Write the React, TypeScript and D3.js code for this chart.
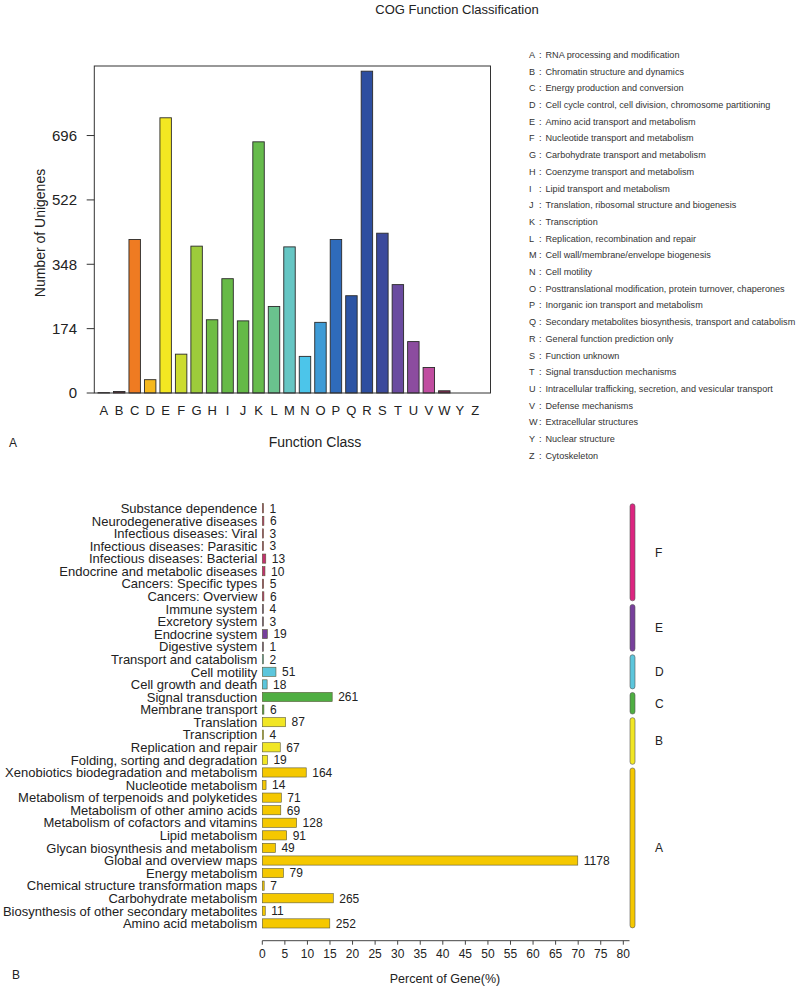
import React from "react";
import * as d3 from "d3";

// ---------- Panel A data ----------
const cogLetters = ["A","B","C","D","E","F","G","H","I","J","K","L","M","N","O","P","Q","R","S","T","U","V","W","Y","Z"];
const cogCounts = [1,4,415,36,744,105,397,198,309,195,679,234,395,99,191,415,263,870,432,293,139,69,6,0,0];
const cogColors = ["#8a2a3a","#7a2a3a","#ef7b22","#f6b81c","#f3e722","#cbdb2f","#9dcb3b","#6fbd45","#67ba47","#64b947","#66bb4c","#6ac28e","#66c6c4","#4cc5ea","#3e9bd6","#2f6bbb","#2c54a4","#2d4ea0","#3c4a9c","#6a4ba0","#8c4c9f","#c04da0","#7c2c4e","#888888","#888888"];
const cogTicks = [0,174,348,522,696];
const cogDescriptions = [
  "RNA processing and modification",
  "Chromatin structure and dynamics",
  "Energy production and conversion",
  "Cell cycle control, cell division, chromosome partitioning",
  "Amino acid transport and metabolism",
  "Nucleotide transport and metabolism",
  "Carbohydrate transport and metabolism",
  "Coenzyme transport and metabolism",
  "Lipid transport and metabolism",
  "Translation, ribosomal structure and biogenesis",
  "Transcription",
  "Replication, recombination and repair",
  "Cell wall/membrane/envelope biogenesis",
  "Cell motility",
  "Posttranslational modification, protein turnover, chaperones",
  "Inorganic ion transport and metabolism",
  "Secondary metabolites biosynthesis, transport and catabolism",
  "General function prediction only",
  "Function unknown",
  "Signal transduction mechanisms",
  "Intracellular trafficking, secretion, and vesicular transport",
  "Defense mechanisms",
  "Extracellular structures",
  "Nuclear structure",
  "Cytoskeleton",
];

// ---------- Panel B data ----------
const keggPathways = [
  "Substance dependence","Neurodegenerative diseases","Infectious diseases: Viral","Infectious diseases: Parasitic",
  "Infectious diseases: Bacterial","Endocrine and metabolic diseases","Cancers: Specific types","Cancers: Overview",
  "Immune system","Excretory system","Endocrine system","Digestive system",
  "Transport and catabolism","Cell motility","Cell growth and death",
  "Signal transduction","Membrane transport",
  "Translation","Transcription","Replication and repair","Folding, sorting and degradation",
  "Xenobiotics biodegradation and metabolism","Nucleotide metabolism","Metabolism of terpenoids and polyketides",
  "Metabolism of other amino acids","Metabolism of cofactors and vitamins","Lipid metabolism",
  "Glycan biosynthesis and metabolism","Global and overview maps","Energy metabolism",
  "Chemical structure transformation maps","Carbohydrate metabolism","Biosynthesis of other secondary metabolites",
  "Amino acid metabolism",
];
const keggCounts = [1,6,3,3,13,10,5,6,4,3,19,1,2,51,18,261,6,87,4,67,19,164,14,71,69,128,91,49,1178,79,7,265,11,252];
const keggGroupOf = ["F","F","F","F","F","F","F","F","E","E","E","E","D","D","D","C","C","B","B","B","B","A","A","A","A","A","A","A","A","A","A","A","A","A"];
const keggGroups = ["F","E","D","C","B","A"];
const keggGroupColors = ["#dc2580","#77409b","#5cc6dc","#4fae42","#f1e624","#f5c800"];
const keggBarColors = ["#c2306f","#77409b","#5cc6dc","#4fae42","#f1e624","#f5c800"];
const keggTotalGenes = 1685;
const percentTicks = d3.range(0, 85, 5);

const FONT = "'Liberation Sans', Arial, Helvetica, sans-serif";

export default function App() {
  // Panel A scales
  const boxL = 94.3, boxR = 490.5, boxT = 66, boxB = 393;
  const xA = d3.scaleBand<string>().domain(cogLetters).range([98, 481]).paddingInner(0.26).paddingOuter(0);
  const yA = d3.scaleLinear().domain([0, 884]).range([boxB, boxT]);

  // Panel B scales
  const xB = d3.scaleLinear().domain([0, 80]).range([262.3, 623.3]);
  const yB = d3.scaleBand<string>().domain(keggPathways).range([502, 929.7]).paddingInner(0.27).paddingOuter(0.135);
  const step = yB.step();
  const axisY = 940.7;

  return (
    <svg width={800} height={989} style={{ position: "absolute", left: 0, top: 0, background: "#fff" }} fontFamily={FONT}>
      {/* Title */}
      <text x={457} y={14} textAnchor="middle" fontSize={13} fill="#222">COG Function Classification</text>

      {/* Panel A bars */}
      {cogLetters.map((l, i) => {
        const v = cogCounts[i];
        if (v <= 0) return null;
        return (
          <rect key={l} x={xA(l)} y={yA(v)} width={xA.bandwidth()} height={boxB - yA(v)}
            fill={cogColors[i]} stroke="#2a2a2a" strokeWidth={0.9} />
        );
      })}
      {/* Box */}
      <rect x={boxL} y={boxT} width={boxR - boxL} height={boxB - boxT} fill="none" stroke="#333" strokeWidth={1} />
      {/* Y ticks */}
      {cogTicks.map(t => (
        <g key={t}>
          <line x1={86.7} x2={boxL} y1={yA(t)} y2={yA(t)} stroke="#333" strokeWidth={1} />
          <text x={77} y={yA(t)} dy="0.36em" textAnchor="end" fontSize={15} fill="#222">{t}</text>
        </g>
      ))}
      {/* X labels */}
      {cogLetters.map(l => (
        <text key={l} x={(xA(l) as number) + xA.bandwidth() / 2} y={410} dy="0.36em" textAnchor="middle" fontSize={13} fill="#222">{l}</text>
      ))}
      <text x={315} y={442} dy="0.36em" textAnchor="middle" fontSize={14} fill="#222">Function Class</text>
      <text transform={`translate(40,233) rotate(-90)`} textAnchor="middle" dy="0.36em" fontSize={14} fill="#222">Number of Unigenes</text>
      <text x={13} y={443} dy="0.36em" textAnchor="middle" fontSize={12} fill="#222">A</text>

      {/* Legend */}
      {cogLetters.map((l, i) => {
        const y = 54.7 + i * 16.7;
        return (
          <g key={l} fontSize={9.1} fill="#333">
            <text x={529} y={y} dy="0.36em">{l}</text>
            <text x={539} y={y} dy="0.36em">:</text>
            <text x={545.5} y={y} dy="0.36em">{cogDescriptions[i]}</text>
          </g>
        );
      })}

      {/* Panel B bars */}
      {keggPathways.map((p, i) => {
        const pct = (keggCounts[i] / keggTotalGenes) * 100;
        const gi = keggGroups.indexOf(keggGroupOf[i]);
        const y = yB(p) as number;
        const cy = y + yB.bandwidth() / 2;
        const w = Math.max(xB(pct) - xB(0), 1.2);
        return (
          <g key={p}>
            <rect x={xB(0)} y={y} width={w} height={yB.bandwidth()} fill={keggBarColors[gi]} stroke="#5a5a3a" strokeWidth={0.6} />
            <text x={257.3} y={cy} dy="0.36em" textAnchor="end" fontSize={13} fill="#222">{p}</text>
            <text x={xB(0) + w + 6} y={cy} dy="0.36em" fontSize={12} fill="#222">{keggCounts[i]}</text>
          </g>
        );
      })}

      {/* Group bars */}
      {keggGroups.map((g, gi) => {
        const idx = keggGroupOf.map((x, i) => (x === g ? i : -1)).filter(i => i >= 0);
        const first = keggPathways[idx[0]];
        const last = keggPathways[idx[idx.length - 1]];
        const top = (yB(first) as number) + yB.bandwidth() / 2 - step / 2 + 1.8;
        const bot = (yB(last) as number) + yB.bandwidth() / 2 + step / 2 - 1.8;
        return (
          <g key={g}>
            <rect x={630} y={top} width={5} height={bot - top} rx={2.5} ry={2.5} fill={keggGroupColors[gi]} stroke="#555" strokeWidth={0.6} />
            <text x={655} y={(top + bot) / 2} dy="0.36em" fontSize={12} fill="#222">{g}</text>
          </g>
        );
      })}

      {/* X axis */}
      <line x1={xB(0)} x2={629.5} y1={axisY} y2={axisY} stroke="#444" strokeWidth={1} />
      {percentTicks.map(t => (
        <g key={t}>
          <line x1={xB(t)} x2={xB(t)} y1={axisY} y2={axisY + 4} stroke="#444" strokeWidth={1} />
          <text x={xB(t)} y={954} dy="0.36em" textAnchor="middle" fontSize={12} fill="#222">{t}</text>
        </g>
      ))}
      <text x={445} y={978} dy="0.36em" textAnchor="middle" fontSize={12.5} fill="#222">Percent of Gene(%)</text>
      <text x={16} y={975} dy="0.36em" textAnchor="middle" fontSize={12} fill="#222">B</text>
    </svg>
  );
}
